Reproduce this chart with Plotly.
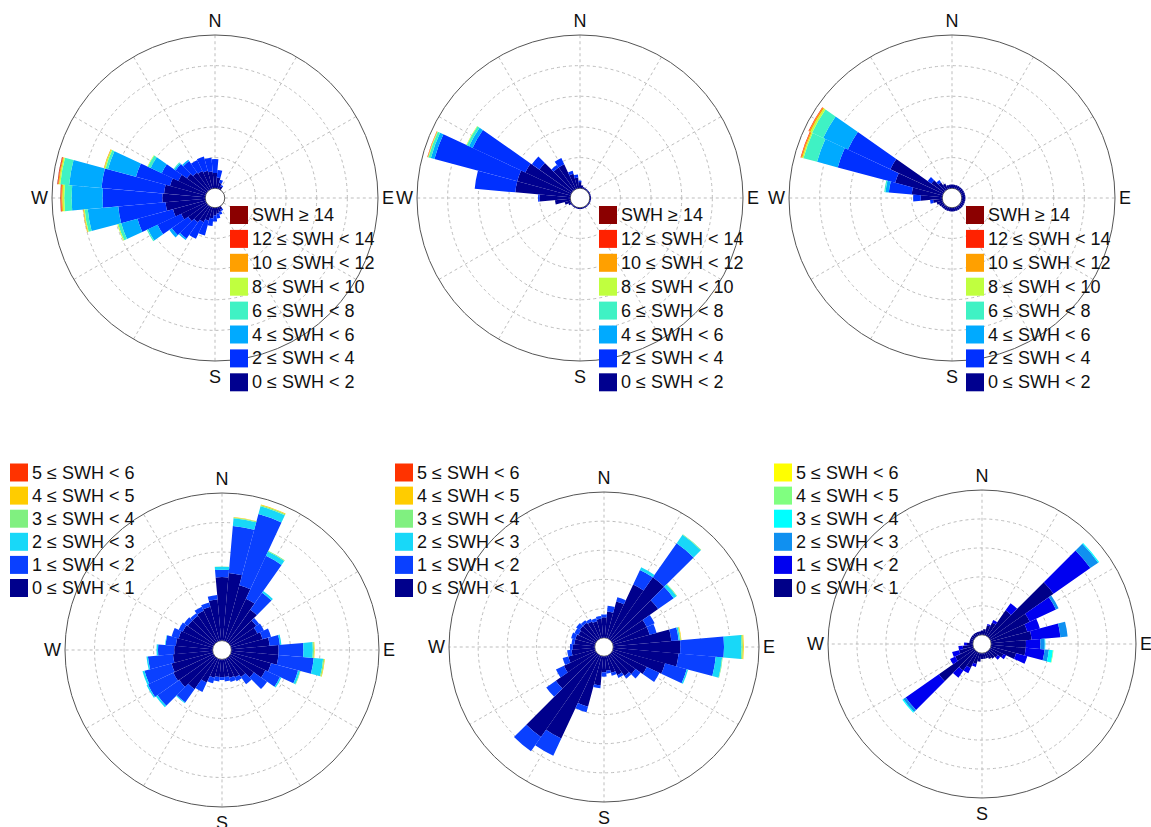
import numpy as np
import plotly.graph_objects as go

# ---------------- data ----------------
DIRS = list(range(0, 360, 10))          # direction bin centres (deg, clockwise from N)
COMPASS_TICKS = list(range(0, 360, 30))
COMPASS_TEXT = ["N", "", "", "E", "", "", "S", "", "", "W", "", ""]

TOP_LABELS = ["0 ≤ SWH < 2", "2 ≤ SWH < 4", "4 ≤ SWH < 6", "6 ≤ SWH < 8",
              "8 ≤ SWH < 10", "10 ≤ SWH < 12", "12 ≤ SWH < 14", "SWH ≥ 14"]
BOT_LABELS = ["0 ≤ SWH < 1", "1 ≤ SWH < 2", "2 ≤ SWH < 3", "3 ≤ SWH < 4",
              "4 ≤ SWH < 5", "5 ≤ SWH < 6"]
TOP_COLORS = ["#00008f", "#0030ff", "#00aaff", "#3ff2c4", "#c0ff3f", "#ffa000", "#ff2200", "#8b0000"]
BOT_COLORS_A = ["#00008c", "#0a40ff", "#18d8f8", "#80f080", "#ffcc00", "#ff3300"]
BOT_COLORS_B = ["#000088", "#0000f0", "#1090f0", "#00ffff", "#80ff80", "#ffff00"]

# cumulative radius (grid-ring units) reached by each class; 0 = class absent
# panel 1 (top left)
P1_C1 = [0.5, 0.35, 0.2, 0.1, 0, 0, 0, 0, 0, 0, 0, 0,
         0, 0, 0, 0.1, 0.15, 0.2, 0.25, 0.35, 0.45, 0.55, 0.65, 0.75,
         0.9, 1.1, 1.3, 1.4, 1.35, 1.2, 1.0, 0.8, 0.7, 0.65, 0.6, 0.55]
P1_C2 = [0.95, 0.6, 0.3, 0.15, 0, 0, 0, 0, 0, 0, 0, 0,
         0, 0, 0, 0.15, 0.25, 0.35, 0.45, 0.6, 0.95, 1.15, 1.3, 1.4,
         1.75, 2.3, 2.85, 3.35, 3.4, 2.35, 1.6, 1.25, 1.15, 1.05, 1.08, 1.0]
P1_C3 = [0, 0, 0, 0, 0, 0, 0, 0, 0, 0, 0, 0,
         0, 0, 0, 0, 0, 0, 0, 0, 0, 0, 1.35, 1.5,
         2.1, 2.85, 3.85, 4.36, 4.46, 3.3, 2.0, 1.3, 1.2, 0, 0, 0]
P1_C4 = [0, 0, 0, 0, 0, 0, 0, 0, 0, 0, 0, 0,
         0, 0, 0, 0, 0, 0, 0, 0, 0, 0, 0, 0,
         2.14, 2.95, 3.95, 4.6, 4.75, 3.38, 2.1, 1.33, 0, 0, 0, 0]
P1_C5 = [0, 0, 0, 0, 0, 0, 0, 0, 0, 0, 0, 0,
         0, 0, 0, 0, 0, 0, 0, 0, 0, 0, 0, 0,
         0, 2.98, 3.98, 4.66, 4.79, 3.42, 2.12, 0, 0, 0, 0, 0]
P1_C6 = [0, 0, 0, 0, 0, 0, 0, 0, 0, 0, 0, 0,
         0, 0, 0, 0, 0, 0, 0, 0, 0, 0, 0, 0,
         0, 0, 4.0, 4.7, 4.82, 3.44, 0, 0, 0, 0, 0, 0]
P1_C7 = [0, 0, 0, 0, 0, 0, 0, 0, 0, 0, 0, 0,
         0, 0, 0, 0, 0, 0, 0, 0, 0, 0, 0, 0,
         0, 0, 0, 4.72, 4.84, 0, 0, 0, 0, 0, 0, 0]
P1_C8 = [0, 0, 0, 0, 0, 0, 0, 0, 0, 0, 0, 0,
         0, 0, 0, 0, 0, 0, 0, 0, 0, 0, 0, 0,
         0, 0, 0, 4.73, 4.85, 0, 0, 0, 0, 0, 0, 0]

# panel 2 (top middle)
P2_C1 = [0.2, 0.1, 0.05, 0.04, 0.04, 0.04, 0.04, 0.04, 0.04, 0.04, 0.04, 0.04,
         0.04, 0.04, 0.04, 0.04, 0.04, 0.04, 0.04, 0.04, 0.04, 0.04, 0.04, 0.04,
         0.1, 0.2, 0.5, 1.0, 1.8, 1.8, 1.65, 1.3, 0.9, 0.9, 0.5, 0.35]
P2_C2 = [0.25, 0, 0, 0, 0, 0, 0, 0, 0, 0, 0, 0,
         0, 0, 0, 0, 0, 0, 0, 0, 0, 0, 0, 0,
         0, 0, 0, 1.05, 3.13, 4.6, 3.55, 1.6, 1.0, 1.12, 0.6, 0.45]
P2_C3 = [0, 0, 0, 0, 0, 0, 0, 0, 0, 0, 0, 0,
         0, 0, 0, 0, 0, 0, 0, 0, 0, 0, 0, 0,
         0, 0, 0, 0, 0, 4.72, 3.68, 0, 0, 0, 0, 0]
P2_C4 = [0, 0, 0, 0, 0, 0, 0, 0, 0, 0, 0, 0,
         0, 0, 0, 0, 0, 0, 0, 0, 0, 0, 0, 0,
         0, 0, 0, 0, 0, 4.8, 3.76, 0, 0, 0, 0, 0]
P2_C5 = [0, 0, 0, 0, 0, 0, 0, 0, 0, 0, 0, 0,
         0, 0, 0, 0, 0, 0, 0, 0, 0, 0, 0, 0,
         0, 0, 0, 0, 0, 4.82, 3.78, 0, 0, 0, 0, 0]
P2_C6 = [0, 0, 0, 0, 0, 0, 0, 0, 0, 0, 0, 0,
         0, 0, 0, 0, 0, 0, 0, 0, 0, 0, 0, 0,
         0, 0, 0, 0, 0, 4.83, 0, 0, 0, 0, 0, 0]
P2_C7 = [0, 0, 0, 0, 0, 0, 0, 0, 0, 0, 0, 0,
         0, 0, 0, 0, 0, 0, 0, 0, 0, 0, 0, 0,
         0, 0, 0, 0, 0, 4.84, 0, 0, 0, 0, 0, 0]
P2_C8 = [0] * 36

# panel 3 (top right)
P3_C1 = [0.12, 0.12, 0.12, 0.12, 0.12, 0.12, 0.12, 0.12, 0.12, 0.12, 0.12, 0.12,
         0.12, 0.12, 0.12, 0.12, 0.12, 0.12, 0.12, 0.12, 0.12, 0.12, 0.12, 0.12,
         0.15, 0.2, 0.3, 0.7, 1.0, 1.6, 1.9, 0.5, 0.3, 0.2, 0.12, 0.12]
P3_C2 = [0, 0, 0, 0, 0, 0, 0, 0, 0, 0, 0, 0,
         0, 0, 0, 0, 0, 0, 0, 0, 0, 0, 0, 0,
         0, 0, 0.4, 0.95, 1.75, 3.54, 3.43, 0.65, 0.4, 0, 0, 0]
P3_C3 = [0, 0, 0, 0, 0, 0, 0, 0, 0, 0, 0, 0,
         0, 0, 0, 0, 0, 0, 0, 0, 0, 0, 0, 0,
         0, 0, 0, 0, 1.86, 4.24, 4.32, 0, 0, 0, 0, 0]
P3_C4 = [0, 0, 0, 0, 0, 0, 0, 0, 0, 0, 0, 0,
         0, 0, 0, 0, 0, 0, 0, 0, 0, 0, 0, 0,
         0, 0, 0, 0, 1.9, 4.7, 4.72, 0, 0, 0, 0, 0]
P3_C5 = [0, 0, 0, 0, 0, 0, 0, 0, 0, 0, 0, 0,
         0, 0, 0, 0, 0, 0, 0, 0, 0, 0, 0, 0,
         0, 0, 0, 0, 0, 4.74, 4.78, 0, 0, 0, 0, 0]
P3_C6 = [0, 0, 0, 0, 0, 0, 0, 0, 0, 0, 0, 0,
         0, 0, 0, 0, 0, 0, 0, 0, 0, 0, 0, 0,
         0, 0, 0, 0, 0, 4.78, 4.83, 0, 0, 0, 0, 0]
P3_C7 = [0, 0, 0, 0, 0, 0, 0, 0, 0, 0, 0, 0,
         0, 0, 0, 0, 0, 0, 0, 0, 0, 0, 0, 0,
         0, 0, 0, 0, 0, 4.8, 4.85, 0, 0, 0, 0, 0]
P3_C8 = [0] * 36

# panel 4 (bottom left)
P4_C1 = [2.15, 2.3, 1.95, 1.6, 1.35, 1.1, 1.0, 1.1, 1.3, 1.6, 1.6, 1.4,
         1.3, 1.0, 0.8, 0.7, 0.65, 0.6, 0.6, 0.6, 0.65, 0.9, 1.3, 1.45,
         1.5, 1.45, 1.35, 1.3, 1.25, 1.2, 1.15, 1.1, 1.1, 1.15, 1.2, 1.4]
P4_C2 = [2.4, 3.9, 4.45, 3.2, 2.05, 1.22, 1.25, 1.4, 1.65, 2.44, 2.8, 2.35,
         1.85, 1.55, 1.1, 0.85, 0.8, 0.75, 0.7, 0.75, 0.85, 1.25, 1.85, 2.35,
         2.45, 2.4, 2.2, 1.85, 1.6, 1.45, 1.3, 1.25, 1.2, 1.3, 1.35, 1.55]
P4_C3 = [2.5, 4.16, 4.72, 3.36, 2.12, 0, 0, 0, 1.7, 2.76, 3.12, 2.42,
         1.9, 0, 0, 0, 0, 0, 0, 0, 0, 0, 1.88, 2.42,
         2.5, 2.47, 2.25, 1.9, 1.62, 0, 0, 0, 0, 0, 0, 0]
P4_C4 = [2.51, 4.19, 4.76, 3.39, 0, 0, 0, 0, 0, 2.8, 3.16, 2.44,
         0, 0, 0, 0, 0, 0, 0, 0, 0, 0, 0, 0,
         0, 0, 0, 0, 0, 0, 0, 0, 0, 0, 0, 0]
P4_C5 = [0, 4.2, 4.78, 0, 0, 0, 0, 0, 0, 2.82, 3.18, 0,
         0, 0, 0, 0, 0, 0, 0, 0, 0, 0, 0, 0,
         0, 0, 0, 0, 0, 0, 0, 0, 0, 0, 0, 0]
P4_C6 = [0] * 36

# panel 5 (bottom middle)
P5_C1 = [0.7, 0.9, 1.3, 2.05, 2.6, 1.95, 1.3, 1.3, 2.0, 2.3, 2.25, 1.85,
         1.3, 1.0, 0.9, 0.75, 0.6, 0.5, 0.55, 1.0, 1.8, 3.15, 3.45, 1.7,
         1.2, 0.95, 0.8, 0.75, 0.7, 0.7, 0.65, 0.7, 0.7, 0.65, 0.6, 0.65]
P5_C2 = [0.8, 1.1, 1.45, 2.6, 4.03, 2.6, 1.6, 1.55, 2.25, 3.8, 3.53, 2.62,
         1.78, 1.21, 1.0, 0.85, 0.7, 0.6, 0.7, 1.1, 2.0, 3.8, 4.05, 2.1,
         1.5, 1.15, 0.95, 0.85, 0.8, 0.85, 0.8, 0.85, 0.8, 0.75, 0.7, 0.75]
P5_C3 = [0, 0, 0, 2.7, 4.38, 2.72, 0, 0, 2.3, 4.4, 3.75, 2.67,
         0, 0, 0, 0, 0, 0, 0, 0, 0, 0, 0, 0,
         0, 0, 0, 0, 0, 0, 0, 0, 0, 0, 0, 0]
P5_C4 = [0, 0, 0, 0, 4.4, 2.74, 0, 0, 2.33, 4.45, 3.77, 0,
         0, 0, 0, 0, 0, 0, 0, 0, 0, 0, 0, 0,
         0, 0, 0, 0, 0, 0, 0, 0, 0, 0, 0, 0]
P5_C5 = [0, 0, 0, 0, 0, 0, 0, 0, 2.35, 4.48, 0, 0,
         0, 0, 0, 0, 0, 0, 0, 0, 0, 0, 0, 0,
         0, 0, 0, 0, 0, 0, 0, 0, 0, 0, 0, 0]
P5_C6 = [0] * 36

# panel 6 (bottom right)
P6_C1 = [0.15, 0.2, 0.35, 0.5, 1.1, 2.7, 1.5, 1.3, 1.4, 1.2, 1.2, 0.9,
         0.5, 0.35, 0.3, 0.25, 0.2, 0.2, 0.2, 0.3, 0.4, 0.6, 0.8, 1.5,
         0.7, 0.5, 0.35, 0.2, 0.12, 0.12, 0.12, 0.12, 0.12, 0.12, 0.12, 0.12]
P6_C2 = [0, 0, 0.4, 0.6, 1.4, 4.25, 2.5, 1.75, 2.4, 1.7, 1.85, 1.3,
         0.6, 0.45, 0, 0, 0, 0, 0, 0, 0.5, 0.8, 1.1, 2.9,
         0.9, 0.75, 0.5, 0.3, 0, 0, 0, 0, 0, 0, 0, 0]
P6_C3 = [0, 0, 0, 0, 0, 4.58, 2.6, 0, 2.65, 1.85, 2.0, 0,
         0, 0, 0, 0, 0, 0, 0, 0, 0, 0, 0, 3.0,
         0, 0, 0, 0, 0, 0, 0, 0, 0, 0, 0, 0]
P6_C4 = [0, 0, 0, 0, 0, 4.62, 0, 0, 0, 1.87, 2.14, 0,
         0, 0, 0, 0, 0, 0, 0, 0, 0, 0, 0, 3.04,
         0, 0, 0, 0, 0, 0, 0, 0, 0, 0, 0, 0]
P6_C5 = [0, 0, 0, 0, 0, 0, 0, 0, 0, 0, 2.16, 0,
         0, 0, 0, 0, 0, 0, 0, 0, 0, 0, 0, 0,
         0, 0, 0, 0, 0, 0, 0, 0, 0, 0, 0, 0]
P6_C6 = [0] * 36

# ---------------- figure ----------------
W, H = 1151, 827
FONT = "Liberation Sans, Arial, Helvetica, sans-serif"
fig = go.Figure()

# (centre x px, centre y px, radius px) of each rose
PANELS = [
    ("polar", (215, 198, 163), [P1_C1, P1_C2, P1_C3, P1_C4, P1_C5, P1_C6, P1_C7, P1_C8], TOP_LABELS, TOP_COLORS),
    ("polar2", (580, 198, 163), [P2_C1, P2_C2, P2_C3, P2_C4, P2_C5, P2_C6, P2_C7, P2_C8], TOP_LABELS, TOP_COLORS),
    ("polar3", (952, 198, 163), [P3_C1, P3_C2, P3_C3, P3_C4, P3_C5, P3_C6, P3_C7, P3_C8], TOP_LABELS, TOP_COLORS),
    ("polar4", (222, 650, 157), [P4_C1, P4_C2, P4_C3, P4_C4, P4_C5, P4_C6], BOT_LABELS, BOT_COLORS_A),
    ("polar5", (604, 647, 155), [P5_C1, P5_C2, P5_C3, P5_C4, P5_C5, P5_C6], BOT_LABELS, BOT_COLORS_A),
    ("polar6", (982, 644, 154), [P6_C1, P6_C2, P6_C3, P6_C4, P6_C5, P6_C6], BOT_LABELS, BOT_COLORS_B),
]
# key placement: (swatch left x px, first-row centre y px, row step px)
KEY_POS = [(230, 215, 23.9), (599, 215, 23.9), (966, 215, 23.9),
           (10, 472.5, 23.1), (395, 472.5, 23.1), (774, 472.5, 23.1)]

layout = dict(width=W, height=H, margin=dict(l=0, r=0, t=0, b=0),
              paper_bgcolor="white", plot_bgcolor="white",
              font=dict(family=FONT, size=18, color="#111"), showlegend=False)
shapes, annotations = [], []

for (pname, (cx, cy, R), classes, labels, colors), (kx, ky, kstep) in zip(PANELS, KEY_POS):
    prev = np.zeros(len(DIRS))
    for cum, lab, col in zip(classes, labels, colors):
        c = np.asarray(cum, dtype=float)
        c = np.where(c > 0, np.maximum(c, prev), prev)
        inc = c - prev
        prev = c
        fig.add_trace(go.Barpolar(
            r=inc, theta=DIRS, width=[10] * len(DIRS), name=lab,
            marker=dict(color=col, line=dict(width=0)),
            subplot=pname, showlegend=False, hoverinfo="skip"))
    layout[pname] = dict(
        domain=dict(x=[(cx - R) / W, (cx + R) / W], y=[1 - (cy + R) / H, 1 - (cy - R) / H]),
        hole=0.06, bgcolor="white", barmode="stack",
        radialaxis=dict(range=[0, 5], tickvals=[1, 2, 3, 4], showticklabels=False, ticks="",
                        showline=False, gridcolor="#bdbdbd", griddash="dot", gridwidth=1,
                        layer="below traces"),
        angularaxis=dict(direction="clockwise", rotation=90, tickmode="array",
                         tickvals=COMPASS_TICKS, ticktext=COMPASS_TEXT, ticks="",
                         showline=True, linecolor="#555555", linewidth=1,
                         gridcolor="#bdbdbd", griddash="dot", gridwidth=1,
                         layer="below traces", tickfont=dict(size=18, family=FONT, color="#111")))
    # key (top row = highest class)
    n = len(labels)
    for i in range(n):
        k = n - 1 - i
        yc = ky + i * kstep
        shapes.append(dict(type="rect", xref="paper", yref="paper",
                           x0=kx / W, x1=(kx + 18) / W,
                           y0=1 - (yc + 9) / H, y1=1 - (yc - 9) / H,
                           fillcolor=colors[k], line=dict(width=0), layer="above"))
        annotations.append(dict(text=labels[k], xref="paper", yref="paper",
                                x=(kx + 20) / W, y=1 - yc / H, xanchor="left", yanchor="middle",
                                showarrow=False, font=dict(size=18, family=FONT, color="#111")))

layout["shapes"] = shapes
layout["annotations"] = annotations
fig.update_layout(**layout)
# place the figure flush with the page corner (no default body margin)
fig.write_html("out.html", config={"displayModeBar": False, "staticPlot": True},
               post_script="document.body.style.margin='0px';")
